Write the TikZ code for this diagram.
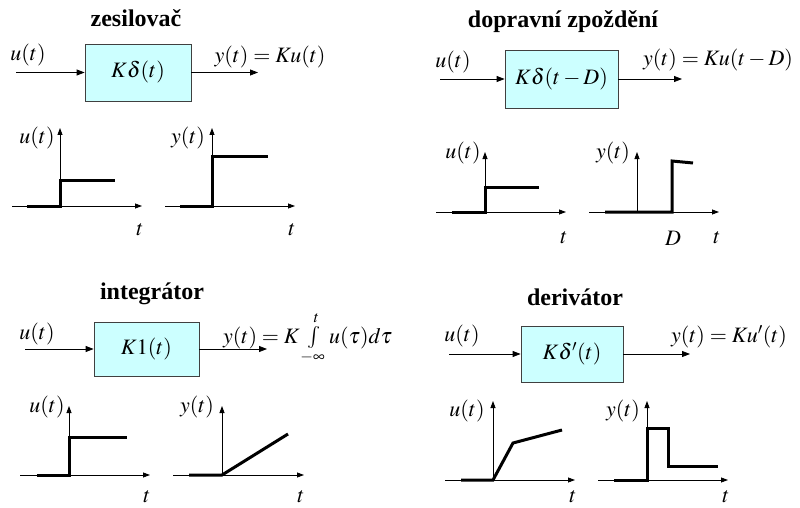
\documentclass[tikz,border=0pt]{standalone}
\usepackage{mathptmx}
\usepackage[no-math]{fontspec}
\setmainfont{Liberation Serif}
\usepackage{xcolor}
\usetikzlibrary{arrows.meta}

\definecolor{blokfill}{RGB}{204,255,255}

\begin{document}
\begin{tikzpicture}[x=1pt, y=-1pt,
    every node/.style={font=\fontsize{22}{26}\selectfont, inner sep=0pt},
    blok/.style={draw=black!75, fill=blokfill, line width=0.8pt},
    sipka/.style={-{Triangle[length=8pt, width=6pt]}, line width=0.8pt},
    osa/.style={-{Triangle[length=7pt, width=5pt]}, line width=0.8pt},
    prubeh/.style={line width=3pt},
    nadpis/.style={font=\fontsize{24}{28}\selectfont\bfseries}]
  \useasboundingbox (0,0) rectangle (800,508);

  % Zesilovac
  \node[nadpis] (n1) at (136,18) {zesilovač};
  \node[blok, minimum width=106pt, minimum height=57pt] (b1) at (138,72.5) {$K\delta(t)$};
  \coordinate (in1) at (16,72.5);
  \coordinate (out1) at (258,72.5);
  \draw[sipka] (in1) -- (b1);
  \draw[sipka] (b1) -- (out1);
  \node (u1) at (28,55) {$u(t)$};
  \node (y1) at (270,57) {$y(t) = Ku(t)$};
  % grafy
  \draw[osa] (12,206) -- (142,206);
  \draw[osa] (60,206) -- (60,128);
  \draw[prubeh] (27,206) -- (60,206) -- (60,180) -- (115,180);
  \node (gu1) at (37,138) {$u(t)$};
  \node (gt1) at (140,230) {$t$};
  \draw[osa] (165,206) -- (295,206);
  \draw[osa] (212,206) -- (212,128);
  \draw[prubeh] (180,206) -- (212,206) -- (212,156) -- (268,156);
  \node (gy1) at (188,138) {$y(t)$};
  \node (gt2) at (292,230) {$t$};

  % Dopravni zpozdeni
  \node[nadpis] (n2) at (563,22) {dopravní zpoždění};
  \node[blok, minimum width=113pt, minimum height=58pt] (b2) at (561.5,79) {$K\delta(t-D)$};
  \coordinate (in2) at (440,79);
  \coordinate (out2) at (682,79);
  \draw[sipka] (in2) -- (b2);
  \draw[sipka] (b2) -- (out2);
  \node (u2) at (453,62) {$u(t)$};
  \node (y2) at (718,60) {$y(t) = Ku(t-D)$};
  % grafy
  \draw[osa] (436,212) -- (566,212);
  \draw[osa] (485,212) -- (485,152);
  \draw[prubeh] (452,212) -- (485,212) -- (485,187) -- (539,187);
  \node (gu2) at (463,153) {$u(t)$};
  \node (gt3) at (564,238) {$t$};
  \draw[osa] (589,212) -- (719,212);
  \draw[osa] (637,212) -- (637,152);
  \draw[prubeh] (605,212) -- (672,212) -- (672,161) -- (693,163);
  \node (gy2) at (613,153) {$y(t)$};
  \node (gd) at (673,238) {$D$};
  \node (gt4) at (717,238) {$t$};

  % Integrator
  \node[nadpis] (n3) at (152,294) {integrátor};
  \node[blok, minimum width=105pt, minimum height=54pt] (b3) at (146.5,349) {$K1(t)$};
  \coordinate (in3) at (25,349);
  \coordinate (out3) at (267,349);
  \draw[sipka] (in3) -- (b3);
  \draw[sipka] (b3) -- (out3);
  \node (u3) at (37,334) {$u(t)$};
  \node[anchor=base west] (y3) at (223,343) {$y(t) = K\int\limits_{-\infty}^{t} u(\tau)d\tau$};
  % grafy
  \draw[osa] (20,475) -- (150,475);
  \draw[osa] (69,475) -- (69,406);
  \draw[prubeh] (37,475) -- (69,475) -- (69,437) -- (127,437);
  \node (gu3) at (47,407) {$u(t)$};
  \node (gt5) at (147,497) {$t$};
  \draw[osa] (173,475) -- (304,475);
  \draw[osa] (222,475) -- (222,406);
  \draw[prubeh] (189,475) -- (222,475) -- (288,434);
  \node (gy3) at (197,407) {$y(t)$};
  \node (gt6) at (301,497) {$t$};

  % Derivator
  \node[nadpis] (n4) at (575,297) {derivátor};
  \node[blok, minimum width=102pt, minimum height=56pt] (b4) at (572,354) {$K\delta'(t)$};
  \coordinate (in4) at (449,354);
  \coordinate (out4) at (690,354);
  \draw[sipka] (in4) -- (b4);
  \draw[sipka] (b4) -- (out4);
  \node (u4) at (462,336) {$u(t)$};
  \node (y4) at (729,337) {$y(t) = Ku'(t)$};
  % grafy
  \draw[osa] (445,480) -- (575,480);
  \draw[osa] (493,480) -- (493,401);
  \draw[prubeh] (461,480) -- (493,480) -- (513,443) -- (562,430);
  \node (gu4) at (467,411) {$u(t)$};
  \node (gt7) at (573,497) {$t$};
  \draw[osa] (598,480) -- (728,480);
  \draw[osa] (647,480) -- (647,401);
  \draw[prubeh] (614,480) -- (647,480) -- (647,428) -- (668,428) -- (668,466) -- (718,466);
  \node (gy4) at (623,411) {$y(t)$};
  \node (gt8) at (726,497) {$t$};
\end{tikzpicture}
\end{document}
